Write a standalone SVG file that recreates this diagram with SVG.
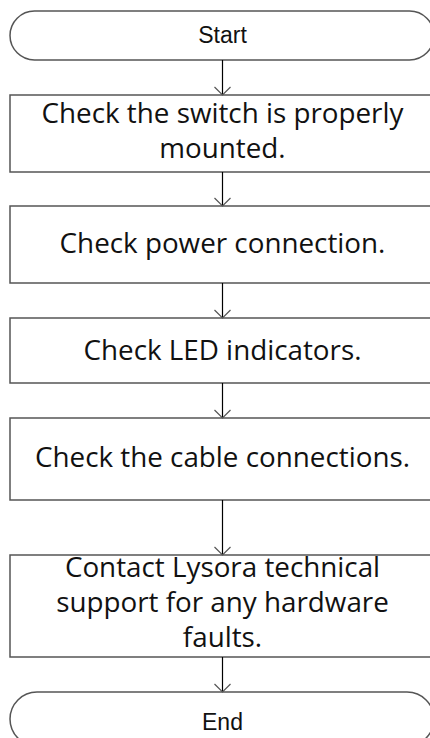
<svg xmlns="http://www.w3.org/2000/svg" width="430" height="738" viewBox="0 0 430 738">
<style>
.shape{fill:#fff;stroke:#555;stroke-width:1.5}
.t{font-family:"Open Sans","Noto Sans",sans-serif;font-size:27.8px;fill:#111;text-anchor:middle}
.tt{font-family:"Liberation Sans",Arial,sans-serif;font-size:23px;fill:#111;text-anchor:middle}
.c{stroke:#000;stroke-width:1.2;fill:none}
.ah{stroke:#555;stroke-width:1.2;fill:none}
</style>
<rect width="430" height="738" fill="#fff"/>
<g id="start">
<rect class="shape" x="10" y="11" width="424" height="49" rx="24.5" ry="24.5"/>
<text class="tt" x="222.5" y="43.3">Start</text>
</g>
<g id="step1">
<rect class="shape" x="10" y="95" width="425" height="77"/>
<text class="t" x="222.5" y="123.3">Check the switch is properly</text>
<text class="t" x="222.5" y="158.3">mounted.</text>
</g>
<g id="step2">
<rect class="shape" x="10" y="206" width="425" height="77"/>
<text class="t" x="222.5" y="253">Check power connection.</text>
</g>
<g id="step3">
<rect class="shape" x="10" y="318" width="425" height="65"/>
<text class="t" x="222.5" y="360">Check LED indicators.</text>
</g>
<g id="step4">
<rect class="shape" x="10" y="418" width="425" height="82"/>
<text class="t" x="222.5" y="467">Check the cable connections.</text>
</g>
<g id="step5">
<rect class="shape" x="10" y="555" width="425" height="102"/>
<text class="t" x="222.5" y="577">Contact Lysora technical</text>
<text class="t" x="222.5" y="612">support for any hardware</text>
<text class="t" x="222.5" y="647">faults.</text>
</g>
<g id="end">
<rect class="shape" x="10" y="692" width="424" height="54" rx="27" ry="27"/>
<text class="tt" x="222.5" y="730">End</text>
</g>
<g id="connectors">
<path class="c" d="M222.5 60V95M222.5 172V206M222.5 283V318M222.5 383V418M222.5 500V555M222.5 657V692"/>
<path class="ah" d="M214.5 87L222.5 95L230.5 87M214.5 198L222.5 206L230.5 198M214.5 310L222.5 318L230.5 310M214.5 410L222.5 418L230.5 410M214.5 547L222.5 555L230.5 547M214.5 684L222.5 692L230.5 684"/>
</g>
</svg>
